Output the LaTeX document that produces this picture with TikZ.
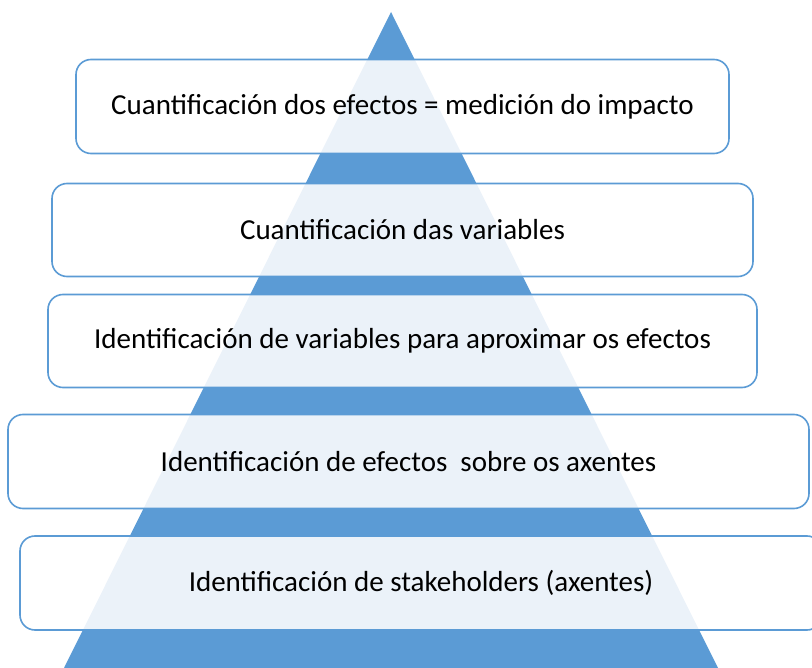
\documentclass[tikz,border=0pt]{standalone}
\usepackage{fontspec}
\setmainfont{Carlito}
\definecolor{pyrblue}{HTML}{5B9BD5}
\tikzset{
  layer/.style={draw=pyrblue,line width=1.6pt,rounded corners=15pt,fill=white,fill opacity=0.88,text opacity=1,align=center,font=\fontsize{29}{34}\selectfont}
}
\begin{document}
\begin{tikzpicture}[x=1pt,y=-1pt]
\clip (0,0) rectangle (812,668);
%pyramid:
\fill[pyrblue] (391,12) -- (718,668) -- (64,668) -- cycle;
%layers:
\node (impact) at (402.5,106.5) [layer,minimum width=653pt,minimum height=94pt] {Cuantificaci\'on dos efectos = medici\'on do impacto};
\node (quant) at (402.5,230) [layer,minimum width=701pt,minimum height=93pt] {Cuantificaci\'on das variables};
\node (vars) at (402.5,341) [layer,minimum width=709pt,minimum height=93pt] {Identificaci\'on de variables para aproximar os efectos};
\node (effects) at (408.5,461.5) [layer,minimum width=801pt,minimum height=94pt] {Identificaci\'on de efectos\ \ sobre os axentes};
\node (stake) at (421,583) [layer,minimum width=802pt,minimum height=94pt] {Identificaci\'on de stakeholders (axentes)};
\end{tikzpicture}
\end{document}
